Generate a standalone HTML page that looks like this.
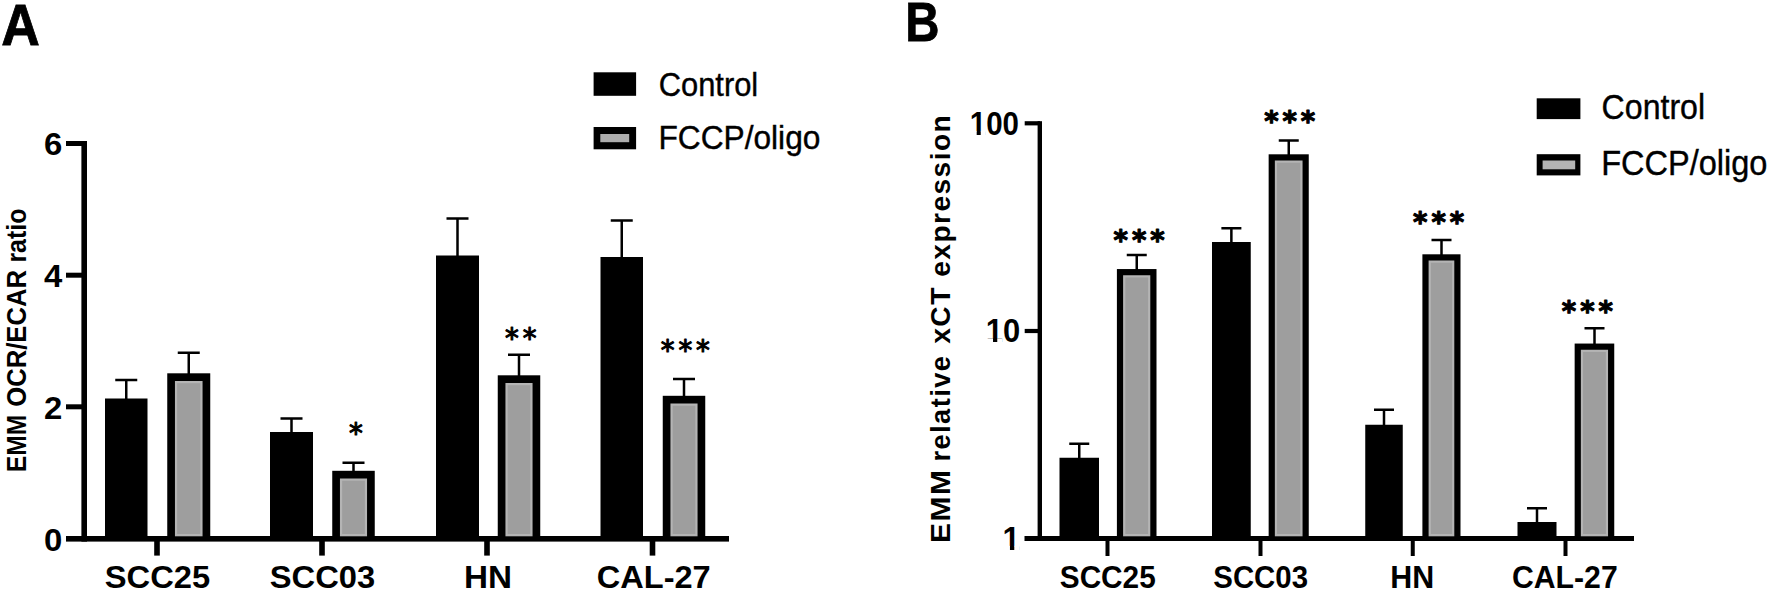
<!DOCTYPE html>
<html lang="en"><head><meta charset="utf-8"><title>Figure</title>
<style>
html,body{margin:0;padding:0;background:#fff;}
body{width:1769px;height:592px;overflow:hidden;}
svg{display:block;font-family:"Liberation Sans",sans-serif;fill:#000;}
</style></head><body>
<svg width="1769" height="592" viewBox="0 0 1769 592">
<g>
<rect x="0" y="0" width="1769" height="592" fill="#fff"/>
<text x="1.30" y="44.60" font-size="58" font-weight="bold" text-anchor="start" textLength="38.6" lengthAdjust="spacingAndGlyphs" stroke="#000" stroke-width="0.8">A</text>
<rect x="81.40" y="141.00" width="5.60" height="400.60" fill="#000"/>
<rect x="66.00" y="536.00" width="663.00" height="5.60" fill="#000"/>
<rect x="66.00" y="141.00" width="18.00" height="5.00" fill="#000"/>
<rect x="66.00" y="272.70" width="18.00" height="5.00" fill="#000"/>
<rect x="66.00" y="404.30" width="18.00" height="5.00" fill="#000"/>
<rect x="154.20" y="540.00" width="5.60" height="15.60" fill="#000"/>
<rect x="319.20" y="540.00" width="5.60" height="15.60" fill="#000"/>
<rect x="484.20" y="540.00" width="5.60" height="15.60" fill="#000"/>
<rect x="649.70" y="540.00" width="5.60" height="15.60" fill="#000"/>
<text x="43.90" y="155.40" font-size="31.5" font-weight="bold" text-anchor="start" textLength="18.3" lengthAdjust="spacingAndGlyphs">6</text>
<text x="43.90" y="287.20" font-size="31.5" font-weight="bold" text-anchor="start" textLength="18.3" lengthAdjust="spacingAndGlyphs">4</text>
<text x="43.90" y="418.90" font-size="31.5" font-weight="bold" text-anchor="start" textLength="18.3" lengthAdjust="spacingAndGlyphs">2</text>
<text x="43.90" y="551.20" font-size="31.5" font-weight="bold" text-anchor="start" textLength="18.3" lengthAdjust="spacingAndGlyphs">0</text>
<text transform="translate(25.6,472.2) rotate(-90) scale(1,1.1)" font-size="25" font-weight="bold" textLength="57.4" lengthAdjust="spacingAndGlyphs">EMM</text>
<text transform="translate(25.6,406.8) rotate(-90) scale(1,1.1)" font-size="25" font-weight="bold" textLength="136.8" lengthAdjust="spacingAndGlyphs">OCR/ECAR</text>
<text transform="translate(25.6,262.6) rotate(-90) scale(1,1.1)" font-size="25" font-weight="bold" textLength="54.0" lengthAdjust="spacingAndGlyphs">ratio</text>
<rect x="125.00" y="380.00" width="2.50" height="19.50" fill="#000"/>
<rect x="115.25" y="378.75" width="22.00" height="2.50" fill="#000"/>
<rect x="105.00" y="398.50" width="42.50" height="138.50" fill="#000"/>
<rect x="290.25" y="418.50" width="2.50" height="14.50" fill="#000"/>
<rect x="280.50" y="417.25" width="22.00" height="2.50" fill="#000"/>
<rect x="270.00" y="432.00" width="43.00" height="105.00" fill="#000"/>
<rect x="456.25" y="218.50" width="2.50" height="38.00" fill="#000"/>
<rect x="446.50" y="217.25" width="22.00" height="2.50" fill="#000"/>
<rect x="436.00" y="255.50" width="43.00" height="281.50" fill="#000"/>
<rect x="620.50" y="220.50" width="2.50" height="37.50" fill="#000"/>
<rect x="610.75" y="219.25" width="22.00" height="2.50" fill="#000"/>
<rect x="600.50" y="257.00" width="42.50" height="280.00" fill="#000"/>
<rect x="187.50" y="352.75" width="2.50" height="21.75" fill="#000"/>
<rect x="177.75" y="351.50" width="22.00" height="2.50" fill="#000"/>
<rect x="167.25" y="373.30" width="43.00" height="163.70" fill="#000"/>
<rect x="174.95" y="381.00" width="27.60" height="155.30" fill="#b4b4b4"/>
<rect x="177.15" y="383.20" width="23.20" height="150.80" fill="#9e9e9e"/>
<rect x="352.25" y="462.75" width="2.50" height="9.25" fill="#000"/>
<rect x="342.50" y="461.50" width="22.00" height="2.50" fill="#000"/>
<rect x="332.25" y="470.80" width="42.50" height="66.20" fill="#000"/>
<rect x="339.95" y="478.50" width="27.10" height="57.80" fill="#b4b4b4"/>
<rect x="342.15" y="480.70" width="22.70" height="53.30" fill="#9e9e9e"/>
<rect x="517.75" y="354.75" width="2.50" height="21.75" fill="#000"/>
<rect x="508.00" y="353.50" width="22.00" height="2.50" fill="#000"/>
<rect x="497.75" y="375.30" width="42.50" height="161.70" fill="#000"/>
<rect x="505.45" y="383.00" width="27.10" height="153.30" fill="#b4b4b4"/>
<rect x="507.65" y="385.20" width="22.70" height="148.80" fill="#9e9e9e"/>
<rect x="682.75" y="379.00" width="2.50" height="18.00" fill="#000"/>
<rect x="673.00" y="377.75" width="22.00" height="2.50" fill="#000"/>
<rect x="662.75" y="395.80" width="42.50" height="141.20" fill="#000"/>
<rect x="670.45" y="403.50" width="27.10" height="132.80" fill="#b4b4b4"/>
<rect x="672.65" y="405.70" width="22.70" height="128.30" fill="#9e9e9e"/>
<text x="104.80" y="588.20" font-size="31" font-weight="bold" text-anchor="start" textLength="105.39999999999999" lengthAdjust="spacingAndGlyphs">SCC25</text>
<text x="269.80" y="588.20" font-size="31" font-weight="bold" text-anchor="start" textLength="105.39999999999998" lengthAdjust="spacingAndGlyphs">SCC03</text>
<text x="464.00" y="588.20" font-size="31" font-weight="bold" text-anchor="start" textLength="48" lengthAdjust="spacingAndGlyphs">HN</text>
<text x="596.80" y="588.20" font-size="31" font-weight="bold" text-anchor="start" textLength="113.90000000000009" lengthAdjust="spacingAndGlyphs">CAL-27</text>
<text x="349.06" y="442.60" font-family="DejaVu Sans" font-size="27.5" font-weight="normal" letter-spacing="3.85" stroke="#000" stroke-width="1.1" stroke-linejoin="round">*</text>
<text x="505.06" y="348.00" font-family="DejaVu Sans" font-size="27.5" font-weight="normal" letter-spacing="3.85" stroke="#000" stroke-width="1.1" stroke-linejoin="round">**</text>
<text x="660.86" y="360.40" font-family="DejaVu Sans" font-size="27.5" font-weight="normal" letter-spacing="3.85" stroke="#000" stroke-width="1.1" stroke-linejoin="round">***</text>
<rect x="593.60" y="72.30" width="42.50" height="23.50" fill="#000"/>
<rect x="593.60" y="127.00" width="42.50" height="22.30" fill="#000"/>
<rect x="600.30" y="134.00" width="28.90" height="8.20" fill="#adadad"/>
<text x="658.70" y="95.50" font-size="34" font-weight="normal" text-anchor="start" textLength="99.5" lengthAdjust="spacingAndGlyphs" stroke="#000" stroke-width="0.4">Control</text>
<text x="658.40" y="148.70" font-size="34" font-weight="normal" text-anchor="start" textLength="162" lengthAdjust="spacingAndGlyphs" stroke="#000" stroke-width="0.4">FCCP/oligo</text>
<text x="905.30" y="41.20" font-size="56" font-weight="bold" text-anchor="start" textLength="34.2" lengthAdjust="spacingAndGlyphs" stroke="#000" stroke-width="0.8">B</text>
<rect x="1037.60" y="121.20" width="4.40" height="419.80" fill="#000"/>
<rect x="1024.50" y="536.00" width="609.50" height="5.00" fill="#000"/>
<rect x="1024.70" y="121.20" width="15.30" height="4.20" fill="#000"/>
<rect x="1024.70" y="328.90" width="15.30" height="4.20" fill="#000"/>
<rect x="1105.50" y="540.00" width="4.00" height="16.00" fill="#000"/>
<rect x="1258.50" y="540.00" width="4.00" height="16.00" fill="#000"/>
<rect x="1410.75" y="540.00" width="4.00" height="16.00" fill="#000"/>
<rect x="1563.50" y="540.00" width="4.00" height="16.00" fill="#000"/>
<g transform="translate(969.8,134.9) scale(0.908,1)"><text x="0" y="0" font-size="32.5" font-weight="bold">100</text><rect x="0.97" y="-3.92" width="6.61" height="4.92" fill="#fff"/><rect x="12.04" y="-3.92" width="5.67" height="4.92" fill="#fff"/></g>
<g transform="translate(985.8,342.4) scale(0.952,1)"><text x="0" y="0" font-size="32.5" font-weight="bold">10</text><rect x="0.97" y="-3.92" width="6.61" height="4.92" fill="#fff"/><rect x="12.04" y="-3.92" width="5.67" height="4.92" fill="#fff"/></g>
<g transform="translate(1002.6,549.8) scale(0.97,1)"><text x="0" y="0" font-size="32.5" font-weight="bold">1</text><rect x="0.97" y="-3.92" width="6.61" height="4.92" fill="#fff"/><rect x="12.04" y="-3.92" width="5.67" height="4.92" fill="#fff"/></g>
<text transform="translate(949.8,542.9) rotate(-90) scale(1,1.05)" font-size="26.5" font-weight="bold" letter-spacing="1.4" textLength="74.5" lengthAdjust="spacingAndGlyphs">EMM</text>
<text transform="translate(949.8,461.6) rotate(-90) scale(1,1.05)" font-size="26.5" font-weight="bold" letter-spacing="1.4" textLength="107.0" lengthAdjust="spacingAndGlyphs">relative</text>
<text transform="translate(949.8,343.8) rotate(-90) scale(1,1.05)" font-size="26.5" font-weight="bold" letter-spacing="1.4" textLength="57.7" lengthAdjust="spacingAndGlyphs">xCT</text>
<text transform="translate(949.8,276.8) rotate(-90) scale(1,1.05)" font-size="26.5" font-weight="bold" letter-spacing="1.4" textLength="163.0" lengthAdjust="spacingAndGlyphs">expression</text>
<rect x="1078.00" y="443.75" width="2.50" height="15.00" fill="#000"/>
<rect x="1069.25" y="442.50" width="20.00" height="2.50" fill="#000"/>
<rect x="1059.50" y="457.75" width="39.50" height="79.25" fill="#000"/>
<rect x="1230.12" y="228.25" width="2.50" height="14.75" fill="#000"/>
<rect x="1221.38" y="227.00" width="20.00" height="2.50" fill="#000"/>
<rect x="1212.00" y="242.00" width="38.75" height="295.00" fill="#000"/>
<rect x="1382.75" y="409.75" width="2.50" height="16.00" fill="#000"/>
<rect x="1374.00" y="408.50" width="20.00" height="2.50" fill="#000"/>
<rect x="1365.25" y="424.75" width="37.50" height="112.25" fill="#000"/>
<rect x="1535.75" y="508.25" width="2.50" height="14.75" fill="#000"/>
<rect x="1527.00" y="507.00" width="20.00" height="2.50" fill="#000"/>
<rect x="1517.50" y="522.00" width="39.00" height="15.00" fill="#000"/>
<rect x="1135.50" y="255.00" width="2.50" height="15.25" fill="#000"/>
<rect x="1126.75" y="253.75" width="20.00" height="2.50" fill="#000"/>
<rect x="1116.90" y="269.05" width="39.60" height="267.95" fill="#000"/>
<rect x="1123.10" y="275.25" width="27.20" height="261.05" fill="#b4b4b4"/>
<rect x="1125.30" y="277.45" width="22.80" height="256.55" fill="#9e9e9e"/>
<rect x="1287.50" y="140.50" width="2.50" height="15.00" fill="#000"/>
<rect x="1278.75" y="139.25" width="20.00" height="2.50" fill="#000"/>
<rect x="1268.65" y="154.30" width="40.10" height="382.70" fill="#000"/>
<rect x="1274.85" y="160.50" width="27.70" height="375.80" fill="#b4b4b4"/>
<rect x="1277.05" y="162.70" width="23.30" height="371.30" fill="#9e9e9e"/>
<rect x="1440.25" y="240.00" width="2.50" height="15.50" fill="#000"/>
<rect x="1431.50" y="238.75" width="20.00" height="2.50" fill="#000"/>
<rect x="1422.40" y="254.30" width="38.10" height="282.70" fill="#000"/>
<rect x="1428.60" y="260.50" width="25.70" height="275.80" fill="#b4b4b4"/>
<rect x="1430.80" y="262.70" width="21.30" height="271.30" fill="#9e9e9e"/>
<rect x="1593.25" y="328.25" width="2.50" height="16.50" fill="#000"/>
<rect x="1584.50" y="327.00" width="20.00" height="2.50" fill="#000"/>
<rect x="1574.65" y="343.55" width="39.60" height="193.45" fill="#000"/>
<rect x="1580.85" y="349.75" width="27.20" height="186.55" fill="#b4b4b4"/>
<rect x="1583.05" y="351.95" width="22.80" height="182.05" fill="#9e9e9e"/>
<text x="1059.80" y="588.20" font-size="31" font-weight="bold" text-anchor="start" textLength="95.90000000000009" lengthAdjust="spacingAndGlyphs">SCC25</text>
<text x="1213.30" y="588.20" font-size="31" font-weight="bold" text-anchor="start" textLength="94.70000000000005" lengthAdjust="spacingAndGlyphs">SCC03</text>
<text x="1390.30" y="588.20" font-size="31" font-weight="bold" text-anchor="start" textLength="43.90000000000009" lengthAdjust="spacingAndGlyphs">HN</text>
<text x="1512.00" y="588.20" font-size="31" font-weight="bold" text-anchor="start" textLength="105.70000000000005" lengthAdjust="spacingAndGlyphs">CAL-27</text>
<text x="1113.61" y="250.36" font-family="DejaVu Sans" font-size="27.5" font-weight="bold" letter-spacing="3.9" stroke="#000" stroke-width="1.1" stroke-linejoin="round">***</text>
<text x="1264.16" y="131.31" font-family="DejaVu Sans" font-size="27.5" font-weight="bold" letter-spacing="3.9" stroke="#000" stroke-width="1.1" stroke-linejoin="round">***</text>
<text x="1413.11" y="231.61" font-family="DejaVu Sans" font-size="27.5" font-weight="bold" letter-spacing="3.9" stroke="#000" stroke-width="1.1" stroke-linejoin="round">***</text>
<text x="1561.86" y="320.86" font-family="DejaVu Sans" font-size="27.5" font-weight="bold" letter-spacing="3.9" stroke="#000" stroke-width="1.1" stroke-linejoin="round">***</text>
<rect x="1536.70" y="98.30" width="43.70" height="20.80" fill="#000"/>
<rect x="1536.70" y="154.20" width="43.70" height="21.20" fill="#000"/>
<rect x="1542.60" y="160.50" width="32.60" height="8.80" fill="#b4b4b4"/>
<text x="1601.60" y="119.30" font-size="35" font-weight="normal" text-anchor="start" textLength="103.5" lengthAdjust="spacingAndGlyphs" stroke="#000" stroke-width="0.4">Control</text>
<text x="1601.20" y="175.20" font-size="35" font-weight="normal" text-anchor="start" textLength="166.2" lengthAdjust="spacingAndGlyphs" stroke="#000" stroke-width="0.4">FCCP/oligo</text>
</g>
</svg>
</body></html>
